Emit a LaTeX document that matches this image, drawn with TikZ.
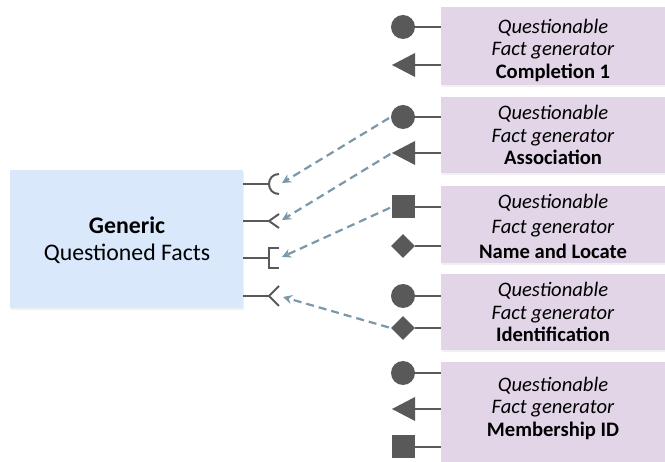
\documentclass[tikz,border=0pt]{standalone}
\usepackage{fontspec}
\setmainfont{Carlito}
\usetikzlibrary{shapes.geometric,arrows.meta,shadows}
\definecolor{lilac}{HTML}{E1D5E7}
\definecolor{paleblue}{HTML}{DAE8FC}
\definecolor{symgray}{HTML}{595959}
\definecolor{dashblue}{HTML}{7A98A8}
\begin{document}
\begin{tikzpicture}[x=1pt,y=-1pt,
  genbox/.style={fill=lilac, draw=none, minimum width=224pt, anchor=west, inner sep=0pt,
    drop shadow={shadow xshift=1pt, shadow yshift=-2pt, opacity=0.12}},
  qbox/.style={fill=paleblue, draw=none, minimum width=233pt, minimum height=138pt, inner sep=0pt,
    drop shadow={shadow xshift=1pt, shadow yshift=-2pt, opacity=0.12}},
  gentxt/.style={align=center, font=\fontsize{20.6}{22.5}\selectfont, inner sep=0pt},
  gentxtwide/.style={align=center, font=\fontsize{20.6}{25}\selectfont, inner sep=0pt},
  qtxt/.style={align=center, font=\fontsize{23.8}{27}\selectfont, inner sep=0pt},
  conn/.style={draw=symgray, line width=2pt},
  symc/.style={circle, fill=symgray, minimum size=24pt, inner sep=0pt},
  syms/.style={rectangle, fill=symgray, minimum size=23pt, inner sep=0pt},
  symd/.style={diamond, fill=symgray, minimum size=24pt, inner sep=0pt},
  dasharrow/.style={draw=dashblue, line width=2.2pt, dash pattern=on 8pt off 5pt,
    -{Stealth[length=9pt,width=9pt,inset=3pt]}, shorten <=2pt}
]
\useasboundingbox (0,0) rectangle (665,462);

% left box
\node[qbox] (q) at (126.5,239) {};
\node[qtxt] (qt) at (127,240) {\textbf{Generic}\\Questioned Facts};

% generator boxes
\node[genbox, minimum height=78pt] (g1) at (441,46) {};
\node[genbox, minimum height=76pt] (g2) at (441,135) {};
\node[genbox, minimum height=77pt] (g3) at (441,224.5) {};
\node[genbox, minimum height=76pt] (g4) at (441,312) {};
\node[genbox, minimum height=100pt] (g5) at (441,412) {};

\node[gentxt] (t1) at (553,50) {\textit{Questionable}\\\textit{Fact generator}\\\textbf{Completion 1}};
\node[gentxt] (t2) at (553,135) {\textit{Questionable}\\\textit{Fact generator}\\\textbf{Association}};
\node[gentxtwide] (t3) at (553,226) {\textit{Questionable}\\\textit{Fact generator}\\\textbf{Name and Locate}};
\node[gentxt] (t4) at (553,312) {\textit{Questionable}\\\textit{Fact generator}\\\textbf{Identification}};
\node[gentxt] (t5) at (553,408) {\textit{Questionable}\\\textit{Fact generator}\\\textbf{Membership ID}};

% symbols of box 1
\node[symc] (c1) at (403,27) {};
\coordinate (a1) at (392,65);
\fill[symgray] (a1) -- (415,53) -- (415,77) -- cycle;
\draw[conn] (c1) -- (c1 -| g1.west);
\draw[conn] (415,65) -- (a1 -| g1.west);

% symbols of box 2
\node[symc] (c2) at (403,117) {};
\coordinate (a2) at (392,153);
\fill[symgray] (a2) -- (415,141) -- (415,165) -- cycle;
\draw[conn] (c2) -- (c2 -| g2.west);
\draw[conn] (415,153) -- (a2 -| g2.west);

% symbols of box 3
\node[syms] (s3) at (403.5,207) {};
\node[symd] (d3) at (403,246) {};
\draw[conn] (s3) -- (s3 -| g3.west);
\draw[conn] (d3) -- (d3 -| g3.west);

% symbols of box 4
\node[symc] (c4) at (403,296) {};
\node[symd] (d4) at (403,328) {};
\draw[conn] (c4) -- (c4 -| g4.west);
\draw[conn] (d4) -- (d4 -| g4.west);

% symbols of box 5
\node[symc] (c5) at (403,373) {};
\coordinate (a5) at (392,409);
\fill[symgray] (a5) -- (415,397) -- (415,421) -- cycle;
\node[syms] (s5) at (403.5,447) {};
\draw[conn] (c5) -- (c5 -| g5.west);
\draw[conn] (415,409) -- (a5 -| g5.west);
\draw[conn] (s5) -- (s5 -| g5.west);

% left connectors
\coordinate (p1) at (269,184);
\coordinate (p2) at (269,221);
\coordinate (p3) at (269,258);
\coordinate (p4) at (269,296);
\draw[conn] (p1 -| q.east) -- (p1);
\draw[conn] (p2 -| q.east) -- (p2);
\draw[conn] (p3 -| q.east) -- (p3);
\draw[conn] (p4 -| q.east) -- (p4);
\draw[conn] (279,174) .. controls (265.7,174) and (265.7,194) .. (279,194);
\draw[conn, line join=miter] (279,214) -- (p2) -- (279,228);
\draw[conn, line join=miter] (279,248) -- (269,248) -- (269,268) -- (279,268);
\draw[conn, line join=miter] (279,286) -- (p4) -- (279,306);

% dashed arrows
\coordinate (e1) at (282,183);
\coordinate (e2) at (282,220);
\coordinate (e3) at (282,257);
\coordinate (e4) at (283,297);
\draw[dasharrow] (c2.west) -- (e1);
\draw[dasharrow] (a2) -- (e2);
\draw[dasharrow] (s3.west) -- (e3);
\draw[dasharrow] (d4.west) -- (e4);
\end{tikzpicture}
\end{document}
